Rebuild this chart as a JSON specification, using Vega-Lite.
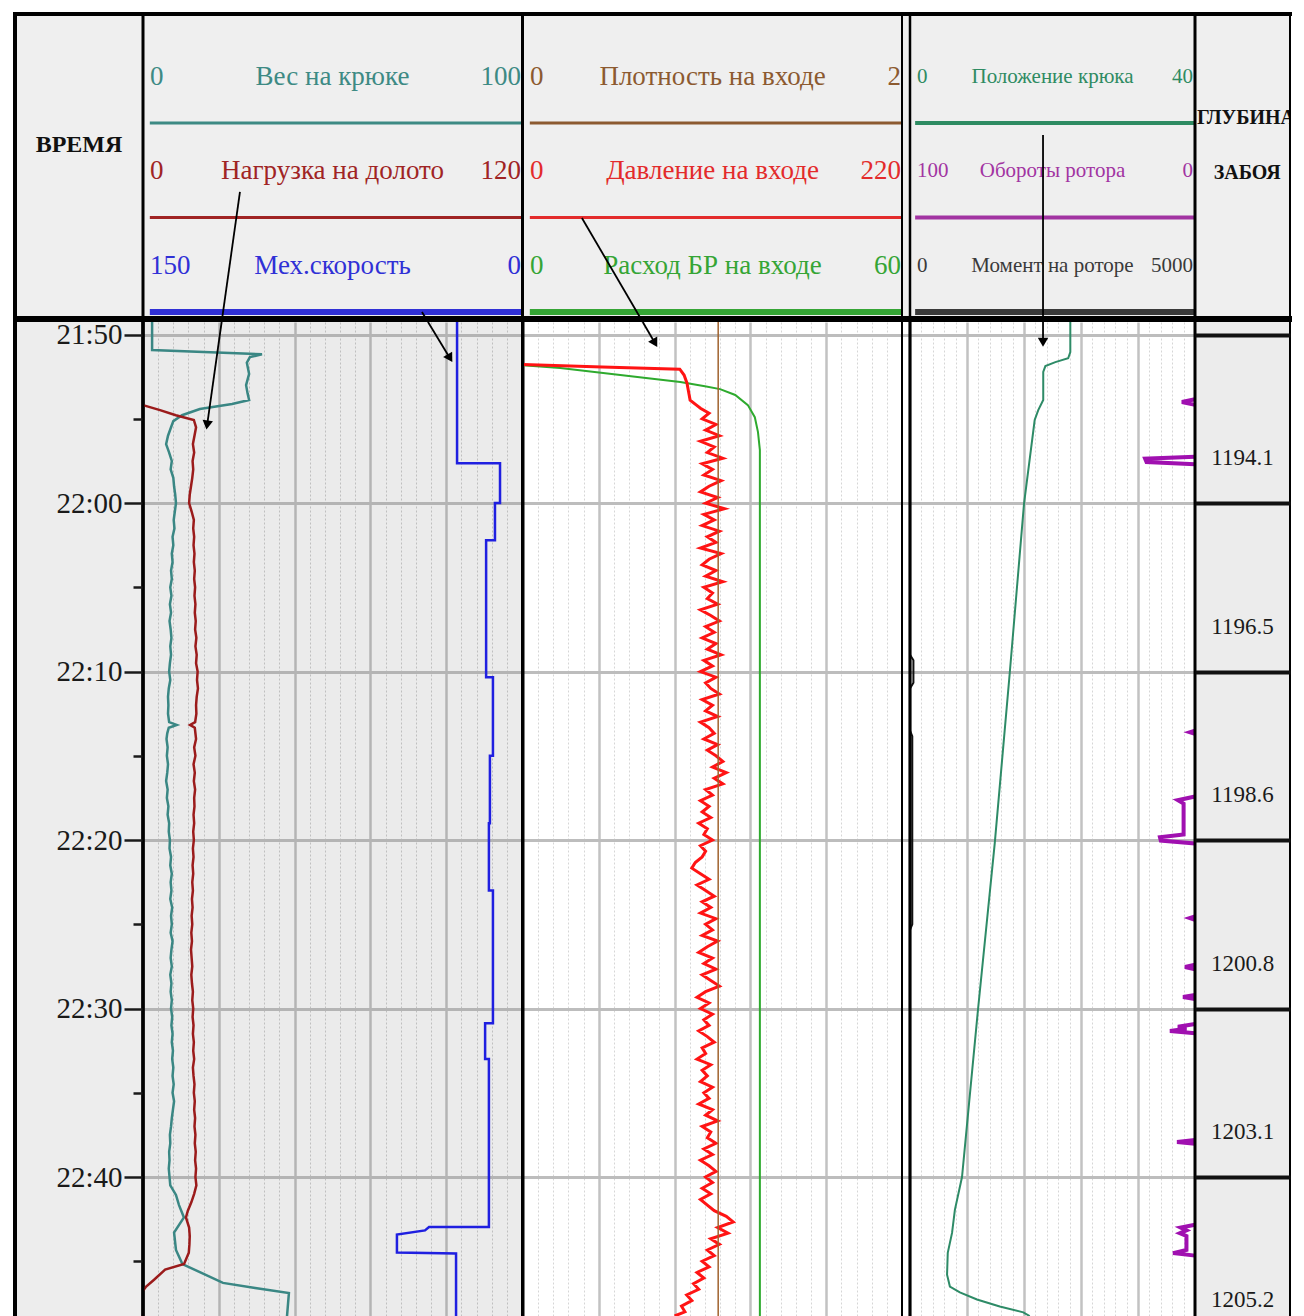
{
"$schema": "https://vega.github.io/schema/vega-lite/v6.json",
"width": 1304,
"height": 1316,
"autosize": {"type": "none"},
"padding": 0,
"background": "#ffffff",
"config": {"view": {"stroke": null}, "text": {"font": "Liberation Serif"}},
"data": {"values": [
{"s":"hook","min":49.25,"v":2.4},{"s":"hook","min":50.917,"v":2.4},{"s":"hook","min":51.167,"v":31.4},{"s":"hook","min":51.333,"v":28.2},{"s":"hook","min":51.667,"v":27.4},{"s":"hook","min":52.333,"v":28.0},{"s":"hook","min":53,"v":27.2},{"s":"hook","min":53.5,"v":27.6},{"s":"hook","min":53.883,"v":28.0},{"s":"hook","min":54.117,"v":23.5},{"s":"hook","min":54.417,"v":15.0},{"s":"hook","min":54.783,"v":10.3},{"s":"hook","min":55.133,"v":8.0},{"s":"hook","min":55.5,"v":7.4},
{"s":"hook","min":56,"v":6.6},{"s":"hook","min":56.5,"v":6.1},{"s":"hook","min":57,"v":6.9},{"s":"hook","min":57.5,"v":7.6},{"s":"hook","min":58,"v":7.3},{"s":"hook","min":58.5,"v":8.0},{"s":"hook","min":59,"v":8.2},{"s":"hook","min":59.5,"v":8.5},{"s":"hook","min":60,"v":8.7},{"s":"hook","min":60.5,"v":8.4},{"s":"hook","min":61,"v":8.1},{"s":"hook","min":61.5,"v":8.3},{"s":"hook","min":62,"v":7.8},{"s":"hook","min":62.5,"v":8.0},{"s":"hook","min":63,"v":7.6},{"s":"hook","min":63.5,"v":7.8},{"s":"hook","min":64,"v":7.4},{"s":"hook","min":64.5,"v":7.6},{"s":"hook","min":65,"v":7.2},{"s":"hook","min":65.5,"v":7.5},{"s":"hook","min":66,"v":7.1},{"s":"hook","min":66.5,"v":7.4},{"s":"hook","min":67,"v":7.0},{"s":"hook","min":67.5,"v":7.3},{"s":"hook","min":68,"v":7.5},{"s":"hook","min":68.5,"v":7.2},{"s":"hook","min":69,"v":7.4},{"s":"hook","min":69.5,"v":7.1},{"s":"hook","min":70,"v":6.9},{"s":"hook","min":70.5,"v":7.2},{"s":"hook","min":71,"v":6.8},{"s":"hook","min":71.5,"v":6.6},{"s":"hook","min":72,"v":6.7},{"s":"hook","min":72.5,"v":6.6},{"s":"hook","min":73,"v":6.9},{"s":"hook","min":73.167,"v":8.9},{"s":"hook","min":73.333,"v":6.8},{"s":"hook","min":73.667,"v":6.4},{"s":"hook","min":74,"v":6.2},{"s":"hook","min":74.5,"v":6.5},{"s":"hook","min":75,"v":6.3},{"s":"hook","min":75.5,"v":6.6},{"s":"hook","min":76,"v":6.4},{"s":"hook","min":76.5,"v":6.1},{"s":"hook","min":77,"v":6.5},{"s":"hook","min":77.5,"v":6.3},{"s":"hook","min":78,"v":6.7},{"s":"hook","min":78.5,"v":6.5},{"s":"hook","min":79,"v":6.9},{"s":"hook","min":79.5,"v":6.8},{"s":"hook","min":80,"v":7.1},{"s":"hook","min":80.5,"v":7.0},{"s":"hook","min":81,"v":7.4},{"s":"hook","min":81.5,"v":7.2},{"s":"hook","min":82,"v":7.6},{"s":"hook","min":82.5,"v":7.3},{"s":"hook","min":83,"v":7.5},{"s":"hook","min":83.5,"v":7.2},{"s":"hook","min":84,"v":7.7},{"s":"hook","min":84.5,"v":7.4},{"s":"hook","min":85,"v":7.6},{"s":"hook","min":85.5,"v":7.3},{"s":"hook","min":86,"v":7.8},{"s":"hook","min":86.5,"v":7.5},{"s":"hook","min":87,"v":7.3},{"s":"hook","min":87.5,"v":7.6},{"s":"hook","min":88,"v":7.2},{"s":"hook","min":88.5,"v":7.5},{"s":"hook","min":89,"v":7.3},{"s":"hook","min":89.5,"v":7.6},{"s":"hook","min":90,"v":7.4},{"s":"hook","min":90.5,"v":7.7},{"s":"hook","min":91,"v":7.5},{"s":"hook","min":91.5,"v":7.8},{"s":"hook","min":92,"v":7.6},{"s":"hook","min":92.5,"v":7.9},{"s":"hook","min":93,"v":7.7},{"s":"hook","min":93.5,"v":8.0},{"s":"hook","min":94,"v":7.8},{"s":"hook","min":94.5,"v":8.1},{"s":"hook","min":95,"v":7.8},{"s":"hook","min":95.5,"v":8.2},{"s":"hook","min":96,"v":7.9},{"s":"hook","min":96.5,"v":7.6},{"s":"hook","min":97,"v":7.4},{"s":"hook","min":97.5,"v":7.1},{"s":"hook","min":98,"v":7.2},{"s":"hook","min":98.5,"v":6.9},{"s":"hook","min":99,"v":7.0},{"s":"hook","min":99.5,"v":6.8},{"s":"hook","min":100,"v":7.0},{"s":"hook","min":100.5,"v":7.2},{"s":"hook","min":101.067,"v":8.7},{"s":"hook","min":101.667,"v":9.5},{"s":"hook","min":102.4,"v":10.8},{"s":"hook","min":103.3,"v":8.2},{"s":"hook","min":104.333,"v":8.7},{"s":"hook","min":105.167,"v":10.4},{"s":"hook","min":106.283,"v":21.1},{"s":"hook","min":106.583,"v":29.6},{"s":"hook","min":106.883,"v":38.5},{"s":"hook","min":108.25,"v":38.0},
{"s":"wob","min":54.183,"v":0},{"s":"wob","min":54.483,"v":5.4},{"s":"wob","min":54.783,"v":10.4},{"s":"wob","min":55.067,"v":16.1},{"s":"wob","min":55.5,"v":16.8},{"s":"wob","min":56,"v":16.3},{"s":"wob","min":56.5,"v":15.8},{"s":"wob","min":57,"v":16.2},{"s":"wob","min":57.5,"v":15.7},{"s":"wob","min":58,"v":15.9},{"s":"wob","min":58.5,"v":15.6},{"s":"wob","min":59,"v":15.2},{"s":"wob","min":59.5,"v":14.8},{"s":"wob","min":60,"v":14.6},{"s":"wob","min":60.5,"v":15.4},{"s":"wob","min":61,"v":16.1},{"s":"wob","min":61.5,"v":15.9},{"s":"wob","min":62,"v":16.2},{"s":"wob","min":62.5,"v":16.0},{"s":"wob","min":63,"v":16.3},{"s":"wob","min":63.5,"v":16.1},{"s":"wob","min":64,"v":16.4},{"s":"wob","min":64.5,"v":16.2},{"s":"wob","min":65,"v":16.5},{"s":"wob","min":65.5,"v":16.3},{"s":"wob","min":66,"v":16.6},{"s":"wob","min":66.5,"v":16.4},{"s":"wob","min":67,"v":16.7},{"s":"wob","min":67.5,"v":16.5},{"s":"wob","min":68,"v":16.9},{"s":"wob","min":68.5,"v":16.6},{"s":"wob","min":69,"v":17.0},{"s":"wob","min":69.5,"v":16.8},{"s":"wob","min":70,"v":17.3},{"s":"wob","min":70.5,"v":17.1},{"s":"wob","min":71,"v":17.4},{"s":"wob","min":71.5,"v":17.0},{"s":"wob","min":72,"v":16.8},{"s":"wob","min":72.5,"v":16.9},{"s":"wob","min":73,"v":16.5},{"s":"wob","min":73.167,"v":14.9},{"s":"wob","min":73.333,"v":16.4},{"s":"wob","min":74,"v":16.8},{"s":"wob","min":74.5,"v":16.2},{"s":"wob","min":75,"v":16.6},{"s":"wob","min":75.5,"v":16.0},{"s":"wob","min":76,"v":16.4},{"s":"wob","min":76.5,"v":16.1},{"s":"wob","min":77,"v":16.5},{"s":"wob","min":77.5,"v":16.2},{"s":"wob","min":78,"v":16.3},{"s":"wob","min":78.5,"v":16.0},{"s":"wob","min":79,"v":16.2},{"s":"wob","min":79.5,"v":15.9},{"s":"wob","min":80,"v":16.1},{"s":"wob","min":80.5,"v":15.8},{"s":"wob","min":81,"v":16.0},{"s":"wob","min":81.5,"v":15.7},{"s":"wob","min":82,"v":15.9},{"s":"wob","min":82.5,"v":15.6},{"s":"wob","min":83,"v":15.8},{"s":"wob","min":83.5,"v":15.5},{"s":"wob","min":84,"v":15.7},{"s":"wob","min":84.5,"v":15.4},{"s":"wob","min":85,"v":15.6},{"s":"wob","min":85.5,"v":15.3},{"s":"wob","min":86,"v":15.5},{"s":"wob","min":86.5,"v":15.2},{"s":"wob","min":87,"v":15.4},{"s":"wob","min":87.5,"v":15.6},{"s":"wob","min":88,"v":15.3},{"s":"wob","min":88.5,"v":15.5},{"s":"wob","min":89,"v":15.8},{"s":"wob","min":89.5,"v":15.6},{"s":"wob","min":90,"v":15.9},{"s":"wob","min":90.5,"v":15.7},{"s":"wob","min":91,"v":16.0},{"s":"wob","min":91.5,"v":15.8},{"s":"wob","min":92,"v":16.1},{"s":"wob","min":92.5,"v":15.9},{"s":"wob","min":93,"v":16.2},{"s":"wob","min":93.5,"v":15.8},{"s":"wob","min":94,"v":16.0},{"s":"wob","min":94.5,"v":16.3},{"s":"wob","min":95,"v":16.1},{"s":"wob","min":95.5,"v":16.4},{"s":"wob","min":96,"v":16.2},{"s":"wob","min":96.5,"v":16.5},{"s":"wob","min":97,"v":16.3},{"s":"wob","min":97.5,"v":16.6},{"s":"wob","min":98,"v":16.4},{"s":"wob","min":98.5,"v":16.7},{"s":"wob","min":99,"v":16.5},{"s":"wob","min":99.5,"v":16.8},{"s":"wob","min":100,"v":16.6},{"s":"wob","min":100.5,"v":16.9},{"s":"wob","min":101,"v":16.2},{"s":"wob","min":101.5,"v":15.3},{"s":"wob","min":102,"v":14.2},{"s":"wob","min":102.4,"v":13.6},{"s":"wob","min":103,"v":14.6},{"s":"wob","min":103.5,"v":14.8},{"s":"wob","min":104,"v":14.7},{"s":"wob","min":104.5,"v":14.5},{"s":"wob","min":105.167,"v":13.0},{"s":"wob","min":105.5,"v":7.0},{"s":"wob","min":106.1,"v":3.5},{"s":"wob","min":106.5,"v":1.0},{"s":"wob","min":106.75,"v":0},
{"s":"rop","min":49.25,"v":25.7},{"s":"rop","min":57.633,"v":25.7},{"s":"rop","min":57.633,"v":8.7},{"s":"rop","min":60,"v":8.7},{"s":"rop","min":60,"v":10.7},{"s":"rop","min":62.2,"v":10.7},{"s":"rop","min":62.2,"v":14.2},{"s":"rop","min":70.333,"v":14.2},{"s":"rop","min":70.333,"v":11.5},{"s":"rop","min":75,"v":11.5},{"s":"rop","min":75,"v":12.7},{"s":"rop","min":79,"v":12.7},{"s":"rop","min":79,"v":13.1},{"s":"rop","min":83,"v":13.1},{"s":"rop","min":83,"v":11.5},{"s":"rop","min":90.867,"v":11.5},{"s":"rop","min":90.867,"v":14.6},{"s":"rop","min":93,"v":14.6},{"s":"rop","min":93,"v":13.1},{"s":"rop","min":102.967,"v":13.1},{"s":"rop","min":102.967,"v":36.8},{"s":"rop","min":103.167,"v":38.4},{"s":"rop","min":103.417,"v":49.5},{"s":"rop","min":104.483,"v":49.5},{"s":"rop","min":104.533,"v":26.1},{"s":"rop","min":108.25,"v":26.1},
{"s":"dens","min":49.25,"v":1.03},{"s":"dens","min":108.25,"v":1.03},
{"s":"flow","min":51.817,"v":0},{"s":"flow","min":51.983,"v":5.9},{"s":"flow","min":52.4,"v":15.4},{"s":"flow","min":52.817,"v":24.9},{"s":"flow","min":53.067,"v":28.8},{"s":"flow","min":53.233,"v":31.2},{"s":"flow","min":53.583,"v":33.6},{"s":"flow","min":54.183,"v":35.6},{"s":"flow","min":54.9,"v":36.7},{"s":"flow","min":55.783,"v":37.2},{"s":"flow","min":56.85,"v":37.5},{"s":"flow","min":108.25,"v":37.5},
{"s":"pres","min":51.767,"v":0},{"s":"pres","min":51.917,"v":46},{"s":"pres","min":52.05,"v":91},{"s":"pres","min":52.4,"v":93.5},{"s":"pres","min":52.883,"v":95.2},{"s":"pres","min":53.333,"v":96},{"s":"pres","min":53.883,"v":97},{"s":"pres","min":54.167,"v":100.5},{"s":"pres","min":54.367,"v":103},{"s":"pres","min":54.667,"v":108},
{"s":"pres","min":55,"v":104},{"s":"pres","min":55.333,"v":112},{"s":"pres","min":55.667,"v":106},
{"s":"pres","min":56,"v":114},{"s":"pres","min":56.333,"v":103},{"s":"pres","min":56.667,"v":111},
{"s":"pres","min":57,"v":107},{"s":"pres","min":57.333,"v":116},{"s":"pres","min":57.667,"v":104},
{"s":"pres","min":58,"v":110},{"s":"pres","min":58.333,"v":105},{"s":"pres","min":58.667,"v":115},
{"s":"pres","min":59,"v":108},{"s":"pres","min":59.333,"v":103},{"s":"pres","min":59.667,"v":113},
{"s":"pres","min":60,"v":106},{"s":"pres","min":60.333,"v":117},{"s":"pres","min":60.667,"v":105},
{"s":"pres","min":61,"v":111},{"s":"pres","min":61.333,"v":104},{"s":"pres","min":61.667,"v":114},
{"s":"pres","min":62,"v":107},{"s":"pres","min":62.333,"v":112},{"s":"pres","min":62.667,"v":103},
{"s":"pres","min":63,"v":115},{"s":"pres","min":63.333,"v":108},{"s":"pres","min":63.667,"v":104},
{"s":"pres","min":64,"v":112},{"s":"pres","min":64.333,"v":106},{"s":"pres","min":64.667,"v":116},
{"s":"pres","min":65,"v":105},{"s":"pres","min":65.333,"v":110},{"s":"pres","min":65.667,"v":107},
{"s":"pres","min":66,"v":113},{"s":"pres","min":66.333,"v":103},{"s":"pres","min":66.667,"v":109},
{"s":"pres","min":67,"v":114},{"s":"pres","min":67.333,"v":106},{"s":"pres","min":67.667,"v":111},
{"s":"pres","min":68,"v":104},{"s":"pres","min":68.333,"v":112},{"s":"pres","min":68.667,"v":107},
{"s":"pres","min":69,"v":115},{"s":"pres","min":69.333,"v":105},{"s":"pres","min":69.667,"v":110},
{"s":"pres","min":70,"v":103},{"s":"pres","min":70.333,"v":112},{"s":"pres","min":70.667,"v":106},
{"s":"pres","min":71,"v":109},{"s":"pres","min":71.333,"v":114},{"s":"pres","min":71.667,"v":104},
{"s":"pres","min":72,"v":110},{"s":"pres","min":72.333,"v":106},{"s":"pres","min":72.667,"v":113},
{"s":"pres","min":73,"v":103},{"s":"pres","min":73.333,"v":108},{"s":"pres","min":73.667,"v":111},
{"s":"pres","min":74,"v":105},{"s":"pres","min":74.333,"v":113},{"s":"pres","min":74.667,"v":107},
{"s":"pres","min":75,"v":112},{"s":"pres","min":75.333,"v":116},{"s":"pres","min":75.667,"v":110},
{"s":"pres","min":76,"v":118},{"s":"pres","min":76.333,"v":111},{"s":"pres","min":76.667,"v":116},
{"s":"pres","min":77,"v":106},{"s":"pres","min":77.333,"v":110},{"s":"pres","min":77.667,"v":103},
{"s":"pres","min":78,"v":108},{"s":"pres","min":78.333,"v":104},{"s":"pres","min":78.667,"v":109},
{"s":"pres","min":79,"v":102},{"s":"pres","min":79.333,"v":107},{"s":"pres","min":79.667,"v":105},
{"s":"pres","min":80,"v":110},{"s":"pres","min":80.333,"v":103},{"s":"pres","min":80.667,"v":106},
{"s":"pres","min":81,"v":104},{"s":"pres","min":81.333,"v":100},{"s":"pres","min":81.667,"v":98},
{"s":"pres","min":82,"v":103},{"s":"pres","min":82.333,"v":108},{"s":"pres","min":82.667,"v":101},
{"s":"pres","min":83,"v":106},{"s":"pres","min":83.333,"v":111},{"s":"pres","min":83.667,"v":104},
{"s":"pres","min":84,"v":109},{"s":"pres","min":84.333,"v":103},{"s":"pres","min":84.667,"v":112},
{"s":"pres","min":85,"v":106},{"s":"pres","min":85.333,"v":110},{"s":"pres","min":85.667,"v":104},
{"s":"pres","min":86,"v":113},{"s":"pres","min":86.333,"v":107},{"s":"pres","min":86.667,"v":102},
{"s":"pres","min":87,"v":110},{"s":"pres","min":87.333,"v":105},{"s":"pres","min":87.667,"v":112},
{"s":"pres","min":88,"v":104},{"s":"pres","min":88.333,"v":109},{"s":"pres","min":88.667,"v":114},
{"s":"pres","min":89,"v":106},{"s":"pres","min":89.333,"v":101},{"s":"pres","min":89.667,"v":108},
{"s":"pres","min":90,"v":103},{"s":"pres","min":90.333,"v":110},{"s":"pres","min":90.667,"v":105},
{"s":"pres","min":91,"v":108},{"s":"pres","min":91.333,"v":102},{"s":"pres","min":91.667,"v":107},
{"s":"pres","min":92,"v":111},{"s":"pres","min":92.333,"v":104},{"s":"pres","min":92.667,"v":106},
{"s":"pres","min":93,"v":101},{"s":"pres","min":93.333,"v":109},{"s":"pres","min":93.667,"v":104},
{"s":"pres","min":94,"v":107},{"s":"pres","min":94.333,"v":103},{"s":"pres","min":94.667,"v":110},
{"s":"pres","min":95,"v":105},{"s":"pres","min":95.333,"v":108},{"s":"pres","min":95.667,"v":102},
{"s":"pres","min":96,"v":110},{"s":"pres","min":96.333,"v":106},{"s":"pres","min":96.667,"v":113},
{"s":"pres","min":97,"v":104},{"s":"pres","min":97.333,"v":109},{"s":"pres","min":97.667,"v":107},
{"s":"pres","min":98,"v":112},{"s":"pres","min":98.333,"v":105},{"s":"pres","min":98.667,"v":110},
{"s":"pres","min":99,"v":103},{"s":"pres","min":99.333,"v":108},{"s":"pres","min":99.667,"v":112},
{"s":"pres","min":100,"v":106},{"s":"pres","min":100.333,"v":110},{"s":"pres","min":100.667,"v":104},
{"s":"pres","min":101,"v":109},{"s":"pres","min":101.333,"v":103},{"s":"pres","min":101.667,"v":107},
{"s":"pres","min":102,"v":111},{"s":"pres","min":102.333,"v":118},{"s":"pres","min":102.667,"v":122},
{"s":"pres","min":103,"v":113},{"s":"pres","min":103.333,"v":119},{"s":"pres","min":103.667,"v":109},
{"s":"pres","min":104,"v":114},{"s":"pres","min":104.333,"v":107},{"s":"pres","min":104.667,"v":111},
{"s":"pres","min":105,"v":104},{"s":"pres","min":105.333,"v":108},{"s":"pres","min":105.667,"v":101},
{"s":"pres","min":106,"v":105},{"s":"pres","min":106.333,"v":99},{"s":"pres","min":106.667,"v":102},
{"s":"pres","min":107,"v":95},{"s":"pres","min":107.333,"v":98},{"s":"pres","min":107.667,"v":92},
{"s":"pres","min":108,"v":94},{"s":"pres","min":108.25,"v":88},
{"s":"pos","min":49.25,"v":22.5},{"s":"pos","min":51.033,"v":22.5},{"s":"pos","min":51.4,"v":22.2},{"s":"pos","min":51.633,"v":20.4},{"s":"pos","min":51.867,"v":19.0},{"s":"pos","min":52.217,"v":18.7},{"s":"pos","min":53.883,"v":18.7},{"s":"pos","min":54.483,"v":18.0},{"s":"pos","min":55.067,"v":17.5},{"s":"pos","min":60.05,"v":16.0},{"s":"pos","min":70.083,"v":14.0},{"s":"pos","min":80.167,"v":11.9},{"s":"pos","min":90.25,"v":9.5},{"s":"pos","min":100,"v":7.3},{"s":"pos","min":101.95,"v":6.3},{"s":"pos","min":103.317,"v":5.9},{"s":"pos","min":104.5,"v":5.3},{"s":"pos","min":105.8,"v":5.2},{"s":"pos","min":106.5,"v":5.6},{"s":"pos","min":106.85,"v":7.0},{"s":"pos","min":107.267,"v":9.4},{"s":"pos","min":107.683,"v":12.6},{"s":"pos","min":108.033,"v":15.9},{"s":"pos","min":108.25,"v":16.8},
{"s":"rpm","k":1,"min":53.833,"v":0},{"s":"rpm","k":1,"min":54,"v":4.6},{"s":"rpm","k":1,"min":54.167,"v":0},
{"s":"rpm","k":2,"min":57.25,"v":0},{"s":"rpm","k":2,"min":57.367,"v":17.5},{"s":"rpm","k":2,"min":57.567,"v":17.0},{"s":"rpm","k":2,"min":57.7,"v":0},
{"s":"rpm","k":3,"min":73.5,"v":0},{"s":"rpm","k":3,"min":73.6,"v":1.8},{"s":"rpm","k":3,"min":73.7,"v":0},
{"s":"rpm","k":4,"min":77.417,"v":0},{"s":"rpm","k":4,"min":77.633,"v":6.0},{"s":"rpm","k":4,"min":77.833,"v":4.0},{"s":"rpm","k":4,"min":79.667,"v":4.0},{"s":"rpm","k":4,"min":79.833,"v":12.3},{"s":"rpm","k":4,"min":80.033,"v":12.0},{"s":"rpm","k":4,"min":80.2,"v":0},
{"s":"rpm","k":5,"min":84.533,"v":0},{"s":"rpm","k":5,"min":84.633,"v":1.8},{"s":"rpm","k":5,"min":84.733,"v":0},
{"s":"rpm","k":6,"min":87.4,"v":0},{"s":"rpm","k":6,"min":87.533,"v":3.5},{"s":"rpm","k":6,"min":87.667,"v":0},
{"s":"rpm","k":7,"min":89.2,"v":0},{"s":"rpm","k":7,"min":89.317,"v":4.2},{"s":"rpm","k":7,"min":89.433,"v":0},
{"s":"rpm","k":8,"min":90.917,"v":0},{"s":"rpm","k":8,"min":91.083,"v":6.0},{"s":"rpm","k":8,"min":91.2,"v":3.0},{"s":"rpm","k":8,"min":91.333,"v":8.8},{"s":"rpm","k":8,"min":91.467,"v":0},
{"s":"rpm","k":9,"min":97.8,"v":0},{"s":"rpm","k":9,"min":97.917,"v":6.3},{"s":"rpm","k":9,"min":98.033,"v":0},
{"s":"rpm","k":10,"min":102.833,"v":0},{"s":"rpm","k":10,"min":103,"v":5.0},{"s":"rpm","k":10,"min":103.167,"v":3.0},{"s":"rpm","k":10,"min":103.333,"v":5.3},{"s":"rpm","k":10,"min":103.5,"v":3.0},{"s":"rpm","k":10,"min":104.333,"v":3.0},{"s":"rpm","k":10,"min":104.517,"v":7.7},{"s":"rpm","k":10,"min":104.667,"v":0},
{"s":"torq","min":49.25,"v":0},{"s":"torq","min":69,"v":0},{"s":"torq","min":69.333,"v":60},{"s":"torq","min":70.667,"v":60},{"s":"torq","min":71,"v":0},{"s":"torq","min":73.5,"v":0},{"s":"torq","min":73.833,"v":40},{"s":"torq","min":85,"v":40},{"s":"torq","min":85.333,"v":0},{"s":"torq","min":108.25,"v":0},
{"s":"depth","min":60,"d":1194.1},{"s":"depth","min":70,"d":1196.5},{"s":"depth","min":80,"d":1198.6},{"s":"depth","min":90,"d":1200.8},{"s":"depth","min":100,"d":1203.1},{"s":"depth","min":110,"d":1205.2},
{"s":"a1","min":49.25,"v":24.9},{"s":"a1","min":55.367,"v":20.3,"end":1},
{"s":"a2","min":49.25,"v":37.2},{"s":"a2","min":51.4,"v":28.5,"end":1},
{"s":"a3","min":49.25,"v":69.5},{"s":"a3","min":50.5,"v":76.6,"end":1},
{"s":"a4","min":49.25,"v":18.67},{"s":"a4","min":50.45,"v":18.67,"end":1}
]},
"resolve": {"scale": {"x": "independent", "y": "independent"}},
"layer": [
 {"data": {"values": [{}]}, "mark": {"type": "rect", "color": "#efefef"},
  "encoding": {"x": {"datum": 0, "type": "quantitative", "scale": {"domain": [0, 1], "range": [15, 1290], "nice": false}, "axis": null}, "x2": {"datum": 1},
               "y": {"datum": -0.153, "type": "quantitative", "scale": {"domain": [-0.153, 3.106], "range": [14, 322], "nice": false, "zero": false}, "axis": null}, "y2": {"datum": 3.106}}},

 {"data": {"values": [{}]}, "mark": {"type": "rect", "color": "#ededed"},
  "encoding": {
   "x": {"datum": 0, "type": "quantitative", "scale": {"domain": [0, 1], "range": [15, 143], "nice": false}, "axis": null}, "x2": {"datum": 1},
   "y": {"datum": 49.25, "type": "quantitative", "scale": {"domain": [49.25, 108.25], "range": [322, 1316], "nice": false, "zero": false},
         "axis": {"orient": "left", "offset": -122, "zindex": 1, "values": [50, 60, 70, 80, 90, 100],
                  "labelExpr": "(21 + floor(datum.value / 60)) + ':' + format(datum.value % 60, '02d')",
                  "labelFont": "Liberation Serif", "labelFontSize": 29, "labelColor": "#1a1a1a", "labelPadding": 0, "labelOverlap": false, "labelBaseline": "middle",
                  "ticks": false, "tickSize": 0, "domain": false, "grid": false, "title": null}},
   "y2": {"datum": 108.25}}},
 {"data": {"values": [{}]}, "mark": {"type": "rect", "fillOpacity": 0},
  "encoding": {
   "x": {"datum": 0, "type": "quantitative", "scale": {"domain": [0, 1], "range": [124, 142], "nice": false}, "axis": null}, "x2": {"datum": 1},
   "y": {"datum": 49.25, "type": "quantitative", "scale": {"domain": [49.25, 108.25], "range": [322, 1316], "nice": false, "zero": false},
         "axis": {"orient": "left", "zindex": 1, "values": [50, 60, 70, 80, 90, 100], "grid": true, "gridColor": "#1a1a1a", "gridWidth": 2.5, "labels": false, "ticks": false, "domain": false, "title": null}},
   "y2": {"datum": 108.25}}},
 {"data": {"values": [{}]}, "mark": {"type": "rect", "fillOpacity": 0},
  "encoding": {
   "x": {"datum": 0, "type": "quantitative", "scale": {"domain": [0, 1], "range": [133, 142], "nice": false}, "axis": null}, "x2": {"datum": 1},
   "y": {"datum": 49.25, "type": "quantitative", "scale": {"domain": [49.25, 108.25], "range": [322, 1316], "nice": false, "zero": false},
         "axis": {"orient": "left", "zindex": 1, "values": [55, 65, 75, 85, 95, 105], "grid": true, "gridColor": "#1a1a1a", "gridWidth": 2.5, "labels": false, "ticks": false, "domain": false, "title": null}},
   "y2": {"datum": 108.25}}},

 {"data": {"values": [{}]}, "mark": {"type": "rect", "color": "#000000", "fillOpacity": 0.08},
  "encoding": {
   "x": {"datum": 0, "type": "quantitative", "scale": {"domain": [0, 1], "range": [143, 522], "nice": false}, "axis": null}, "x2": {"datum": 1},
   "y": {"datum": 49.25, "type": "quantitative", "scale": {"domain": [49.25, 108.25], "range": [322, 1316], "nice": false, "zero": false},
         "axis": {"orient": "left", "values": [50, 60, 70, 80, 90, 100], "grid": true, "gridColor": "#c4c4c4", "gridWidth": 3, "labels": false, "ticks": false, "domain": false, "title": null}},
   "y2": {"datum": 108.25}}},
 {"data": {"values": [{}]}, "mark": {"type": "rect", "fillOpacity": 0},
  "encoding": {
   "x": {"datum": 0, "type": "quantitative", "scale": {"domain": [0, 1], "range": [523, 902], "nice": false}, "axis": null}, "x2": {"datum": 1},
   "y": {"datum": 49.25, "type": "quantitative", "scale": {"domain": [49.25, 108.25], "range": [322, 1316], "nice": false, "zero": false},
         "axis": {"orient": "left", "values": [50, 60, 70, 80, 90, 100], "grid": true, "gridColor": "#bdbdbd", "gridWidth": 3, "labels": false, "ticks": false, "domain": false, "title": null}},
   "y2": {"datum": 108.25}}},
 {"data": {"values": [{}]}, "mark": {"type": "rect", "fillOpacity": 0},
  "encoding": {
   "x": {"datum": 0, "type": "quantitative", "scale": {"domain": [0, 1], "range": [902, 1195], "nice": false}, "axis": null}, "x2": {"datum": 1},
   "y": {"datum": 49.25, "type": "quantitative", "scale": {"domain": [49.25, 108.25], "range": [322, 1316], "nice": false, "zero": false},
         "axis": {"orient": "left", "values": [50, 60, 70, 80, 90, 100], "grid": true, "gridColor": "#bdbdbd", "gridWidth": 3, "labels": false, "ticks": false, "domain": false, "title": null}},
   "y2": {"datum": 108.25}}},
 {"data": {"values": [{}]}, "mark": {"type": "rect", "color": "#ececec"},
  "encoding": {
   "x": {"datum": 0, "type": "quantitative", "scale": {"domain": [0, 1], "range": [1195, 1290], "nice": false}, "axis": null}, "x2": {"datum": 1},
   "y": {"datum": 49.25, "type": "quantitative", "scale": {"domain": [49.25, 108.25], "range": [322, 1316], "nice": false, "zero": false},
         "axis": {"orient": "left", "zindex": 1, "values": [50, 60, 70, 80, 90, 100], "grid": true, "gridColor": "#111111", "gridWidth": 4, "labels": false, "ticks": false, "domain": false, "title": null}},
   "y2": {"datum": 108.25}}},
 {"transform": [{"filter": "datum.s === 'depth'"}],
  "mark": {"type": "text", "fontSize": 23, "baseline": "alphabetic", "dy": -38, "color": "#1a1a1a"},
  "encoding": {
   "x": {"datum": 0.5, "type": "quantitative", "scale": {"domain": [0, 1], "range": [1195, 1290], "nice": false}, "axis": null},
   "y": {"field": "min", "type": "quantitative", "scale": {"domain": [49.25, 108.25], "range": [322, 1316], "nice": false, "zero": false}, "axis": null},
   "text": {"field": "d", "type": "quantitative", "format": ".1f"}}},

 {"resolve": {"scale": {"x": "independent"}},
  "layer": [
   {"data": {"values": [{}]}, "mark": {"type": "rule", "color": "#000000", "strokeWidth": 3},
    "encoding": {
     "x": {"datum": 0, "type": "quantitative", "scale": {"domain": [0, 25], "range": [143, 522], "nice": false},
           "axis": {"orient": "top", "values": [1,2,3,4,6,7,8,9,11,12,13,14,16,17,18,19,21,22,23,24], "grid": true, "gridColor": "#d0d0d0", "gridDash": [2, 2], "gridWidth": 1, "labels": false, "ticks": false, "domain": false, "title": null}},
     "y": {"datum": 49.25, "type": "quantitative", "scale": {"domain": [49.25, 108.25], "range": [322, 1316], "nice": false, "zero": false}, "axis": null},
     "y2": {"datum": 108.25}}},
   {"data": {"values": [{}]}, "mark": {"type": "rule", "color": "#000000", "strokeWidth": 3},
    "encoding": {
     "x": {"datum": 0, "type": "quantitative", "scale": {"domain": [0, 5], "range": [143, 522], "nice": false},
           "axis": {"orient": "top", "values": [1, 2, 3, 4], "grid": true, "gridColor": "#c4c4c4", "gridWidth": 2.5, "labels": false, "ticks": false, "domain": false, "title": null}},
     "y": {"datum": 49.25, "type": "quantitative", "axis": null}, "y2": {"datum": 108.25}}},
   {"transform": [{"filter": "datum.s === 'hook'"}],
    "mark": {"type": "line", "color": "#3a8784", "strokeWidth": 2.5},
    "encoding": {"y": {"field": "min", "type": "quantitative", "axis": null},
     "x": {"field": "v", "type": "quantitative", "scale": {"domain": [0, 100], "range": [143, 522], "nice": false}, "axis": null},
     "order": {"value": null}}},
   {"transform": [{"filter": "datum.s === 'wob'"}],
    "mark": {"type": "line", "color": "#9b1b1b", "strokeWidth": 2.5},
    "encoding": {"y": {"field": "min", "type": "quantitative", "axis": null},
     "x": {"field": "v", "type": "quantitative", "scale": {"domain": [0, 120], "range": [143, 522], "nice": false}, "axis": null},
     "order": {"value": null}}},
   {"transform": [{"filter": "datum.s === 'rop'"}],
    "mark": {"type": "line", "color": "#1f1fe0", "strokeWidth": 2.5},
    "encoding": {"y": {"field": "min", "type": "quantitative", "axis": null},
     "x": {"field": "v", "type": "quantitative", "scale": {"domain": [150, 0], "range": [143, 522], "nice": false}, "axis": null},
     "order": {"value": null}}},
   {"transform": [{"filter": "datum.s === 'a1'"}],
    "mark": {"type": "line", "color": "#000000", "strokeWidth": 1.8},
    "encoding": {"y": {"field": "min", "type": "quantitative", "axis": null},
     "x": {"field": "v", "type": "quantitative", "scale": {"domain": [0, 120], "range": [143, 522], "nice": false}, "axis": null},
     "order": {"value": null}}},
   {"transform": [{"filter": "datum.s === 'a1' && datum.end === 1"}],
    "mark": {"type": "point", "shape": "triangle-down", "filled": true, "color": "#000000", "opacity": 1, "size": 110, "angle": 8.3},
    "encoding": {"y": {"field": "min", "type": "quantitative", "axis": null},
     "x": {"field": "v", "type": "quantitative", "scale": {"domain": [0, 120], "range": [143, 522], "nice": false}, "axis": null}}},
   {"transform": [{"filter": "datum.s === 'a2'"}],
    "mark": {"type": "line", "color": "#000000", "strokeWidth": 1.8},
    "encoding": {"y": {"field": "min", "type": "quantitative", "axis": null},
     "x": {"field": "v", "type": "quantitative", "scale": {"domain": [150, 0], "range": [143, 522], "nice": false}, "axis": null},
     "order": {"value": null}}},
   {"transform": [{"filter": "datum.s === 'a2' && datum.end === 1"}],
    "mark": {"type": "point", "shape": "triangle-down", "filled": true, "color": "#000000", "opacity": 1, "size": 110, "angle": -31},
    "encoding": {"y": {"field": "min", "type": "quantitative", "axis": null},
     "x": {"field": "v", "type": "quantitative", "scale": {"domain": [150, 0], "range": [143, 522], "nice": false}, "axis": null}}}
  ]},

 {"resolve": {"scale": {"x": "independent"}},
  "layer": [
   {"data": {"values": [{}]}, "mark": {"type": "rule", "color": "#000000", "strokeWidth": 3},
    "encoding": {
     "x": {"datum": 0, "type": "quantitative", "scale": {"domain": [0, 25], "range": [523, 902], "nice": false},
           "axis": {"orient": "top", "values": [1,2,3,4,6,7,8,9,11,12,13,14,16,17,18,19,21,22,23,24], "grid": true, "gridColor": "#d6d6d6", "gridDash": [2, 2], "gridWidth": 1, "labels": false, "ticks": false, "domain": false, "title": null}},
     "y": {"datum": 49.25, "type": "quantitative", "scale": {"domain": [49.25, 108.25], "range": [322, 1316], "nice": false, "zero": false}, "axis": null},
     "y2": {"datum": 108.25}}},
   {"data": {"values": [{}]}, "mark": {"type": "rule", "color": "#000000", "strokeWidth": 2},
    "encoding": {
     "x": {"datum": 5, "type": "quantitative", "scale": {"domain": [0, 5], "range": [523, 902], "nice": false},
           "axis": {"orient": "top", "values": [1, 2, 3, 4], "grid": true, "gridColor": "#c2c2c2", "gridWidth": 2.5, "labels": false, "ticks": false, "domain": false, "title": null}},
     "y": {"datum": 49.25, "type": "quantitative", "axis": null}, "y2": {"datum": 108.25}}},
   {"transform": [{"filter": "datum.s === 'flow'"}],
    "mark": {"type": "line", "color": "#2eaa2e", "strokeWidth": 2},
    "encoding": {"y": {"field": "min", "type": "quantitative", "axis": null},
     "x": {"field": "v", "type": "quantitative", "scale": {"domain": [0, 60], "range": [523, 902], "nice": false}, "axis": null},
     "order": {"value": null}}},
   {"transform": [{"filter": "datum.s === 'pres'"}],
    "mark": {"type": "line", "color": "#ff1414", "strokeWidth": 3},
    "encoding": {"y": {"field": "min", "type": "quantitative", "axis": null},
     "x": {"field": "v", "type": "quantitative", "scale": {"domain": [0, 220], "range": [523, 902], "nice": false}, "axis": null},
     "order": {"value": null}}},
   {"transform": [{"filter": "datum.s === 'dens'"}],
    "mark": {"type": "line", "color": "#a0622d", "strokeWidth": 1.5},
    "encoding": {"y": {"field": "min", "type": "quantitative", "axis": null},
     "x": {"field": "v", "type": "quantitative", "scale": {"domain": [0, 2], "range": [523, 902], "nice": false}, "axis": null},
     "order": {"value": null}}},
   {"transform": [{"filter": "datum.s === 'a3'"}],
    "mark": {"type": "line", "color": "#000000", "strokeWidth": 1.8},
    "encoding": {"y": {"field": "min", "type": "quantitative", "axis": null},
     "x": {"field": "v", "type": "quantitative", "scale": {"domain": [0, 220], "range": [523, 902], "nice": false}, "axis": null},
     "order": {"value": null}}},
   {"transform": [{"filter": "datum.s === 'a3' && datum.end === 1"}],
    "mark": {"type": "point", "shape": "triangle-down", "filled": true, "color": "#000000", "opacity": 1, "size": 110, "angle": -30},
    "encoding": {"y": {"field": "min", "type": "quantitative", "axis": null},
     "x": {"field": "v", "type": "quantitative", "scale": {"domain": [0, 220], "range": [523, 902], "nice": false}, "axis": null}}}
  ]},

 {"resolve": {"scale": {"x": "independent"}},
  "layer": [
   {"data": {"values": [{}]}, "mark": {"type": "rule", "color": "#000000", "strokeWidth": 2.5},
    "encoding": {
     "x": {"datum": 0, "type": "quantitative", "scale": {"domain": [0, 25], "range": [910, 1195], "nice": false},
           "axis": {"orient": "top", "values": [1,2,3,4,6,7,8,9,11,12,13,14,16,17,18,19,21,22,23,24], "grid": true, "gridColor": "#d6d6d6", "gridDash": [2, 2], "gridWidth": 1, "labels": false, "ticks": false, "domain": false, "title": null}},
     "y": {"datum": 49.25, "type": "quantitative", "scale": {"domain": [49.25, 108.25], "range": [322, 1316], "nice": false, "zero": false}, "axis": null},
     "y2": {"datum": 108.25}}},
   {"data": {"values": [{}]}, "mark": {"type": "rule", "color": "#000000", "strokeWidth": 2.5},
    "encoding": {
     "x": {"datum": 0, "type": "quantitative", "scale": {"domain": [0, 5], "range": [910, 1195], "nice": false},
           "axis": {"orient": "top", "values": [1, 2, 3, 4], "grid": true, "gridColor": "#c2c2c2", "gridWidth": 2.5, "labels": false, "ticks": false, "domain": false, "title": null}},
     "y": {"datum": 49.25, "type": "quantitative", "axis": null}, "y2": {"datum": 108.25}}},
   {"transform": [{"filter": "datum.s === 'pos'"}],
    "mark": {"type": "line", "color": "#2e8b67", "strokeWidth": 2},
    "encoding": {"y": {"field": "min", "type": "quantitative", "axis": null},
     "x": {"field": "v", "type": "quantitative", "scale": {"domain": [0, 40], "range": [910, 1195], "nice": false}, "axis": null},
     "order": {"value": null}}},
   {"transform": [{"filter": "datum.s === 'rpm'"}],
    "mark": {"type": "line", "color": "#a010b0", "strokeWidth": 4},
    "encoding": {"y": {"field": "min", "type": "quantitative", "axis": null},
     "x": {"field": "v", "type": "quantitative", "scale": {"domain": [100, 0], "range": [910, 1195], "nice": false}, "axis": null},
     "detail": {"field": "k", "type": "nominal"},
     "order": {"value": null}}},
   {"transform": [{"filter": "datum.s === 'torq'"}],
    "mark": {"type": "line", "color": "#111111", "strokeWidth": 2},
    "encoding": {"y": {"field": "min", "type": "quantitative", "axis": null},
     "x": {"field": "v", "type": "quantitative", "scale": {"domain": [0, 5000], "range": [910, 1195], "nice": false}, "axis": null},
     "order": {"value": null}}},
   {"transform": [{"filter": "datum.s === 'a4'"}],
    "mark": {"type": "line", "color": "#000000", "strokeWidth": 1.8},
    "encoding": {"y": {"field": "min", "type": "quantitative", "axis": null},
     "x": {"field": "v", "type": "quantitative", "scale": {"domain": [0, 40], "range": [910, 1195], "nice": false}, "axis": null},
     "order": {"value": null}}},
   {"transform": [{"filter": "datum.s === 'a4' && datum.end === 1"}],
    "mark": {"type": "point", "shape": "triangle-down", "filled": true, "color": "#000000", "opacity": 1, "size": 110, "angle": 0},
    "encoding": {"y": {"field": "min", "type": "quantitative", "axis": null},
     "x": {"field": "v", "type": "quantitative", "scale": {"domain": [0, 40], "range": [910, 1195], "nice": false}, "axis": null}}}
  ]},

 {"data": {"values": [
    {"key": "hook", "row": 1, "lo": "0", "title": "Вес на крюке", "hi": "100"},
    {"key": "wob", "row": 2, "lo": "0", "title": "Нагрузка на долото", "hi": "120"},
    {"key": "rop", "row": 3, "lo": "150", "title": "Мех.скорость", "hi": "0"}]},
  "resolve": {"scale": {"x": "independent"}},
  "layer": [
   {"mark": {"type": "rule"},
    "encoding": {"x": {"datum": 0.018, "type": "quantitative", "scale": {"domain": [0, 1], "range": [143, 522], "nice": false}, "axis": null},
                 "x2": {"datum": 1},
                 "y": {"field": "row", "type": "quantitative", "scale": {"domain": [-0.153, 3.106], "range": [14, 322], "nice": false, "zero": false}, "axis": null},
                 "color": {"field": "key", "type": "nominal", "legend": null,
                           "scale": {"domain": ["hook", "wob", "rop", "dens", "pres", "flow", "pos", "rpm", "torq"],
                                     "range": ["#3d8a84", "#a02424", "#3030d6", "#8c5a30", "#e32b2b", "#35a535", "#2e8b62", "#a234a2", "#3a3a3a"]}},
                 "strokeWidth": {"condition": {"test": "datum.row === 3", "value": 6}, "value": 3}}},
   {"mark": {"type": "text", "align": "left", "baseline": "middle", "dx": 7, "dy": -46, "fontSize": 27},
    "encoding": {"x": {"datum": 0, "type": "quantitative", "scale": {"domain": [0, 1], "range": [143, 522], "nice": false}, "axis": null},
                 "y": {"field": "row", "type": "quantitative", "axis": null},
                 "text": {"field": "lo"}, "color": {"field": "key", "type": "nominal", "legend": null}}},
   {"mark": {"type": "text", "align": "center", "baseline": "middle", "dy": -46, "fontSize": 27},
    "encoding": {"x": {"datum": 0.5, "type": "quantitative", "scale": {"domain": [0, 1], "range": [143, 522], "nice": false}, "axis": null},
                 "y": {"field": "row", "type": "quantitative", "axis": null},
                 "text": {"field": "title"}, "color": {"field": "key", "type": "nominal", "legend": null}}},
   {"mark": {"type": "text", "align": "right", "baseline": "middle", "dx": -1, "dy": -46, "fontSize": 27},
    "encoding": {"x": {"datum": 1, "type": "quantitative", "scale": {"domain": [0, 1], "range": [143, 522], "nice": false}, "axis": null},
                 "y": {"field": "row", "type": "quantitative", "axis": null},
                 "text": {"field": "hi"}, "color": {"field": "key", "type": "nominal", "legend": null}}},
   {"data": {"values": [{"row": 1.73, "v": 30.7}, {"row": 3.106, "v": 24.9}]},
    "mark": {"type": "line", "color": "#000000", "strokeWidth": 1.8},
    "encoding": {"x": {"field": "v", "type": "quantitative", "scale": {"domain": [0, 120], "range": [143, 522], "nice": false}, "axis": null},
                 "y": {"field": "row", "type": "quantitative", "axis": null}, "order": {"value": null}}},
   {"data": {"values": [{"row": 3.0, "v": 39.6}, {"row": 3.106, "v": 37.2}]},
    "mark": {"type": "line", "color": "#000000", "strokeWidth": 1.8},
    "encoding": {"x": {"field": "v", "type": "quantitative", "scale": {"domain": [150, 0], "range": [143, 522], "nice": false}, "axis": null},
                 "y": {"field": "row", "type": "quantitative", "axis": null}, "order": {"value": null}}}
  ]},

 {"data": {"values": [
    {"key": "dens", "row": 1, "lo": "0", "title": "Плотность на входе", "hi": "2"},
    {"key": "pres", "row": 2, "lo": "0", "title": "Давление на входе", "hi": "220"},
    {"key": "flow", "row": 3, "lo": "0", "title": "Расход БР на входе", "hi": "60"}]},
  "resolve": {"scale": {"x": "independent"}},
  "layer": [
   {"mark": {"type": "rule"},
    "encoding": {"x": {"datum": 0.018, "type": "quantitative", "scale": {"domain": [0, 1], "range": [523, 902], "nice": false}, "axis": null},
                 "x2": {"datum": 1},
                 "y": {"field": "row", "type": "quantitative", "scale": {"domain": [-0.153, 3.106], "range": [14, 322], "nice": false, "zero": false}, "axis": null},
                 "color": {"field": "key", "type": "nominal", "legend": null},
                 "strokeWidth": {"condition": {"test": "datum.row === 3", "value": 6}, "value": 3}}},
   {"mark": {"type": "text", "align": "left", "baseline": "middle", "dx": 7, "dy": -46, "fontSize": 27},
    "encoding": {"x": {"datum": 0, "type": "quantitative", "scale": {"domain": [0, 1], "range": [523, 902], "nice": false}, "axis": null},
                 "y": {"field": "row", "type": "quantitative", "axis": null},
                 "text": {"field": "lo"}, "color": {"field": "key", "type": "nominal", "legend": null}}},
   {"mark": {"type": "text", "align": "center", "baseline": "middle", "dy": -46, "fontSize": 27},
    "encoding": {"x": {"datum": 0.5, "type": "quantitative", "scale": {"domain": [0, 1], "range": [523, 902], "nice": false}, "axis": null},
                 "y": {"field": "row", "type": "quantitative", "axis": null},
                 "text": {"field": "title"}, "color": {"field": "key", "type": "nominal", "legend": null}}},
   {"mark": {"type": "text", "align": "right", "baseline": "middle", "dx": -1, "dy": -46, "fontSize": 27},
    "encoding": {"x": {"datum": 1, "type": "quantitative", "scale": {"domain": [0, 1], "range": [523, 902], "nice": false}, "axis": null},
                 "y": {"field": "row", "type": "quantitative", "axis": null},
                 "text": {"field": "hi"}, "color": {"field": "key", "type": "nominal", "legend": null}}},
   {"data": {"values": [{"row": 2.005, "v": 34.2}, {"row": 3.106, "v": 69.5}]},
    "mark": {"type": "line", "color": "#000000", "strokeWidth": 1.8},
    "encoding": {"x": {"field": "v", "type": "quantitative", "scale": {"domain": [0, 220], "range": [523, 902], "nice": false}, "axis": null},
                 "y": {"field": "row", "type": "quantitative", "axis": null}, "order": {"value": null}}}
  ]},

 {"data": {"values": [
    {"key": "pos", "row": 1, "lo": "0", "title": "Положение крюка", "hi": "40"},
    {"key": "rpm", "row": 2, "lo": "100", "title": "Обороты ротора", "hi": "0"},
    {"key": "torq", "row": 3, "lo": "0", "title": "Момент на роторе", "hi": "5000"}]},
  "resolve": {"scale": {"x": "independent"}},
  "layer": [
   {"mark": {"type": "rule"},
    "encoding": {"x": {"datum": 0.018, "type": "quantitative", "scale": {"domain": [0, 1], "range": [910, 1195], "nice": false}, "axis": null},
                 "x2": {"datum": 1},
                 "y": {"field": "row", "type": "quantitative", "scale": {"domain": [-0.153, 3.106], "range": [14, 322], "nice": false, "zero": false}, "axis": null},
                 "color": {"field": "key", "type": "nominal", "legend": null},
                 "strokeWidth": {"condition": {"test": "datum.row === 3", "value": 6}, "value": 4}}},
   {"mark": {"type": "text", "align": "left", "baseline": "middle", "dx": 7, "dy": -46, "fontSize": 21},
    "encoding": {"x": {"datum": 0, "type": "quantitative", "scale": {"domain": [0, 1], "range": [910, 1195], "nice": false}, "axis": null},
                 "y": {"field": "row", "type": "quantitative", "axis": null},
                 "text": {"field": "lo"}, "color": {"field": "key", "type": "nominal", "legend": null}}},
   {"mark": {"type": "text", "align": "center", "baseline": "middle", "dy": -46, "fontSize": 21},
    "encoding": {"x": {"datum": 0.5, "type": "quantitative", "scale": {"domain": [0, 1], "range": [910, 1195], "nice": false}, "axis": null},
                 "y": {"field": "row", "type": "quantitative", "axis": null},
                 "text": {"field": "title"}, "color": {"field": "key", "type": "nominal", "legend": null}}},
   {"mark": {"type": "text", "align": "right", "baseline": "middle", "dx": -2, "dy": -46, "fontSize": 21},
    "encoding": {"x": {"datum": 1, "type": "quantitative", "scale": {"domain": [0, 1], "range": [910, 1195], "nice": false}, "axis": null},
                 "y": {"field": "row", "type": "quantitative", "axis": null},
                 "text": {"field": "hi"}, "color": {"field": "key", "type": "nominal", "legend": null}}},
   {"data": {"values": [{"row": 1.127, "v": 18.67}, {"row": 3.106, "v": 18.67}]},
    "mark": {"type": "line", "color": "#000000", "strokeWidth": 1.8},
    "encoding": {"x": {"field": "v", "type": "quantitative", "scale": {"domain": [0, 40], "range": [910, 1195], "nice": false}, "axis": null},
                 "y": {"field": "row", "type": "quantitative", "axis": null}, "order": {"value": null}}}
  ]},

 {"data": {"values": [{"label": "ВРЕМЯ"}]},
  "mark": {"type": "text", "fontSize": 24, "fontWeight": "bold", "color": "#111111", "baseline": "middle"},
  "encoding": {"x": {"datum": 0.5, "type": "quantitative", "scale": {"domain": [0, 1], "range": [15, 143], "nice": false}, "axis": null},
               "y": {"datum": 1.233, "type": "quantitative", "scale": {"domain": [-0.153, 3.106], "range": [14, 322], "nice": false, "zero": false}, "axis": null},
               "text": {"field": "label"}}},
 {"data": {"values": [{"label": "ГЛУБИНА"}]},
  "mark": {"type": "text", "align": "left", "baseline": "middle", "dx": 2, "fontSize": 20, "fontWeight": "bold", "color": "#111111"},
  "encoding": {"x": {"datum": 0, "type": "quantitative", "scale": {"domain": [0, 1], "range": [1195, 1290], "nice": false}, "axis": null},
               "y": {"datum": 0.947, "type": "quantitative", "scale": {"domain": [-0.153, 3.106], "range": [14, 322], "nice": false, "zero": false}, "axis": null},
               "text": {"field": "label"}}},
 {"data": {"values": [{"label": "ЗАБОЯ"}]},
  "mark": {"type": "text", "align": "center", "baseline": "middle", "fontSize": 20, "fontWeight": "bold", "color": "#111111"},
  "encoding": {"x": {"datum": 0.55, "type": "quantitative", "scale": {"domain": [0, 1], "range": [1195, 1290], "nice": false}, "axis": null},
               "y": {"datum": 1.529, "type": "quantitative", "scale": {"domain": [-0.153, 3.106], "range": [14, 322], "nice": false, "zero": false}, "axis": null},
               "text": {"field": "label"}}},

 {"data": {"values": [{}]}, "mark": {"type": "rect", "color": "#ffffff"},
  "encoding": {"x": {"datum": 0, "type": "quantitative", "scale": {"domain": [0, 1], "range": [1291, 1304], "nice": false}, "axis": null}, "x2": {"datum": 1},
               "y": {"datum": 0, "type": "quantitative", "scale": {"domain": [0, 1], "range": [0, 1316], "nice": false}, "axis": null}, "y2": {"datum": 1}}},

 {"data": {"values": [{}]}, "mark": {"type": "rule", "color": "#000000", "strokeWidth": 4},
  "encoding": {"x": {"datum": 0, "type": "quantitative", "scale": {"domain": [0, 1], "range": [15, 1290], "nice": false}, "axis": null},
               "y": {"datum": 0, "type": "quantitative", "scale": {"domain": [0, 1], "range": [12, 1316], "nice": false}, "axis": null}, "y2": {"datum": 1}}},
 {"data": {"values": [{}]}, "mark": {"type": "rule", "color": "#000000", "strokeWidth": 3},
  "encoding": {"x": {"datum": 0, "type": "quantitative", "scale": {"domain": [0, 1], "range": [143, 522], "nice": false}, "axis": null},
               "y": {"datum": 0, "type": "quantitative", "scale": {"domain": [0, 1], "range": [12, 1316], "nice": false}, "axis": null}, "y2": {"datum": 1}}},
 {"data": {"values": [{}]}, "mark": {"type": "rule", "color": "#000000", "strokeWidth": 3},
  "encoding": {"x": {"datum": 1, "type": "quantitative", "scale": {"domain": [0, 1], "range": [143, 522.5], "nice": false}, "axis": null},
               "y": {"datum": 0, "type": "quantitative", "scale": {"domain": [0, 1], "range": [12, 1316], "nice": false}, "axis": null}, "y2": {"datum": 1}}},
 {"data": {"values": [{}]}, "mark": {"type": "rule", "color": "#000000", "strokeWidth": 2},
  "encoding": {"x": {"datum": 1, "type": "quantitative", "scale": {"domain": [0, 1], "range": [523, 902], "nice": false}, "axis": null},
               "y": {"datum": 0, "type": "quantitative", "scale": {"domain": [0, 1], "range": [12, 1316], "nice": false}, "axis": null}, "y2": {"datum": 1}}},
 {"data": {"values": [{}]}, "mark": {"type": "rule", "color": "#000000", "strokeWidth": 2.5},
  "encoding": {"x": {"datum": 0, "type": "quantitative", "scale": {"domain": [0, 1], "range": [910, 1195], "nice": false}, "axis": null},
               "y": {"datum": 0, "type": "quantitative", "scale": {"domain": [0, 1], "range": [12, 1316], "nice": false}, "axis": null}, "y2": {"datum": 1}}},
 {"data": {"values": [{}]}, "mark": {"type": "rule", "color": "#000000", "strokeWidth": 3},
  "encoding": {"x": {"datum": 0, "type": "quantitative", "scale": {"domain": [0, 1], "range": [1195, 1290], "nice": false}, "axis": null},
               "y": {"datum": 0, "type": "quantitative", "scale": {"domain": [0, 1], "range": [12, 1316], "nice": false}, "axis": null}, "y2": {"datum": 1}}},
 {"data": {"values": [{}]}, "mark": {"type": "rule", "color": "#000000", "strokeWidth": 2},
  "encoding": {"x": {"datum": 1, "type": "quantitative", "scale": {"domain": [0, 1], "range": [1195, 1290], "nice": false}, "axis": null},
               "y": {"datum": 0, "type": "quantitative", "scale": {"domain": [0, 1], "range": [12, 1316], "nice": false}, "axis": null}, "y2": {"datum": 1}}},
 {"data": {"values": [{}]}, "mark": {"type": "rule", "color": "#000000", "strokeWidth": 4},
  "encoding": {"x": {"datum": 0, "type": "quantitative", "scale": {"domain": [0, 1], "range": [13, 1292], "nice": false}, "axis": null}, "x2": {"datum": 1},
               "y": {"datum": -0.153, "type": "quantitative", "scale": {"domain": [-0.153, 3.106], "range": [14, 322], "nice": false, "zero": false}, "axis": null}}},
 {"data": {"values": [{}]}, "mark": {"type": "rule", "color": "#000000", "strokeWidth": 6},
  "encoding": {"x": {"datum": 0, "type": "quantitative", "scale": {"domain": [0, 1], "range": [13, 1292], "nice": false}, "axis": null}, "x2": {"datum": 1},
               "y": {"datum": 3.074, "type": "quantitative", "scale": {"domain": [-0.153, 3.106], "range": [14, 322], "nice": false, "zero": false}, "axis": null}}}
]
}
